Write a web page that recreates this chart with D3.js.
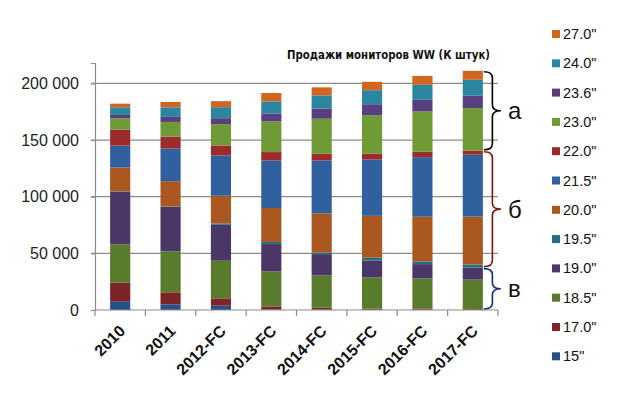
<!DOCTYPE html>
<html>
<head>
<meta charset="utf-8">
<script src="https://cdn.jsdelivr.net/npm/d3@7/dist/d3.min.js"></script>
<style>
  body { margin: 0; background: #fff; }
  text { font-family: "Liberation Sans", Arial, sans-serif; }
</style>
</head>
<body>
<div id="chart-area"></div>
<script>
// years / forecasts
var years = ["2010", "2011", "2012-FC", "2013-FC", "2014-FC", "2015-FC", "2016-FC", "2017-FC"];

// screen sizes, bottom of the stack first
var sizes = ["15\"", "17.0\"", "18.5\"", "19.0\"", "19.5\"", "20.0\"", "21.5\"", "22.0\"", "23.0\"", "23.6\"", "24.0\"", "27.0\""];

// K units
var s15   = [7300, 5000, 3800, 300, 200, 200, 200, 200];
var s17   = [16800, 10600, 6500, 2900, 1800, 900, 1200, 700];
var s18_5 = [33800, 36200, 33200, 30900, 28500, 27600, 26500, 25900];
var s19   = [46400, 39100, 31700, 24100, 18800, 15000, 12600, 10600];
var s19_5 = [500, 500, 1200, 1800, 1500, 2400, 2400, 2700];
var s20   = [20900, 22300, 24400, 30000, 34400, 37000, 39400, 42300];
var s21_5 = [19400, 28800, 35600, 42000, 46800, 49700, 52600, 54700];
var s22   = [14100, 10600, 8800, 7400, 5900, 5300, 4700, 3500];
var s23   = [10000, 12900, 18800, 27000, 30900, 33800, 35600, 37600];
var s23_6 = [2900, 4400, 5300, 7100, 9100, 9700, 10300, 10900];
var s24   = [6800, 8500, 9700, 10600, 11500, 12400, 13200, 14100];
var s27   = [3200, 4700, 5300, 7400, 7100, 7400, 7900, 7900];

var yTicks = [0, 50000, 100000, 150000, 200000];

// brace groups: label and the sizes they span (indexes into sizes)
var groupLabels = ["а", "б", "в"];
var groupFrom = [8, 4, 0];
var groupTo   = [11, 7, 3];

var series = [s15, s17, s18_5, s19, s19_5, s20, s21_5, s22, s23, s23_6, s24, s27];
var colors = ["#26508a", "#7d2427", "#587c2b", "#4a3667", "#246f80", "#aa581f",
              "#31609f", "#9d2b2b", "#6f9a35", "#5a3f80", "#2c86a1", "#d0661f"];
var braceColors = ["#000000", "#7a1010", "#14288a"];

var table = years.map(function(yr, i) {
  var row = { year: yr };
  sizes.forEach(function(s, k) { row[s] = series[k][i]; });
  return row;
});

var svg = d3.select("#chart-area").append("svg")
    .attr("width", 640)
    .attr("height", 395);

svg.append("rect").attr("width", 640).attr("height", 395).attr("fill", "#fff");

var x = d3.scaleBand()
    .domain(years)
    .range([95, 498])
    .paddingInner(0.6)
    .paddingOuter(0.3);

var y = d3.scaleLinear()
    .domain([0, 218000])
    .range([310, 63]);

var color = d3.scaleOrdinal().domain(sizes).range(colors);

// gridlines
svg.append("g").selectAll("line")
  .data(yTicks.slice(1))
  .enter().append("line")
    .attr("x1", 91).attr("x2", 498)
    .attr("y1", function(d) { return y(d); })
    .attr("y2", function(d) { return y(d); })
    .attr("stroke", "#8c8c8c")
    .attr("stroke-width", 1.2);

var stack = d3.stack().keys(sizes)(table);

svg.append("g").selectAll("g")
  .data(stack)
  .enter().append("g")
    .attr("fill", function(d) { return color(d.key); })
  .selectAll("rect")
  .data(function(d) { return d; })
  .enter().append("rect")
    .attr("x", function(d) { return x(d.data.year); })
    .attr("y", function(d) { return y(d[1]); })
    .attr("width", x.bandwidth())
    .attr("height", function(d) { return y(d[0]) - y(d[1]); });

// y axis
var yAxis = svg.append("g")
    .attr("transform", "translate(95,0)")
    .call(d3.axisLeft(y).tickValues(yTicks).tickSize(4)
      .tickFormat(function(d) { return d3.format(",")(d).replace(/,/g, " "); }));
yAxis.select(".domain").attr("stroke", "#8c8c8c").attr("stroke-width", 1.2);
yAxis.selectAll(".tick line").attr("stroke", "#8c8c8c").attr("stroke-width", 1.2);
yAxis.selectAll(".tick text")
    .attr("x", -16)
    .attr("fill", "#222")
    .style("font-size", "16px")
    .style("font-family", "Liberation Sans, Arial, sans-serif");

// x axis with ticks at band edges
var xAxis = svg.append("g").attr("transform", "translate(0,310)");
xAxis.append("line")
    .attr("x1", 95).attr("x2", 498)
    .attr("stroke", "#8c8c8c").attr("stroke-width", 1.2);
var step = x.step();
xAxis.selectAll("line.tk")
  .data(d3.range(years.length + 1))
  .enter().append("line")
    .attr("class", "tk")
    .attr("x1", function(i) { return 95 + i * step; })
    .attr("x2", function(i) { return 95 + i * step; })
    .attr("y1", 0).attr("y2", 6)
    .attr("stroke", "#8c8c8c").attr("stroke-width", 1.2);
xAxis.selectAll("text")
  .data(years)
  .enter().append("text")
    .attr("transform", function(d) {
      return "translate(" + (x(d) + x.bandwidth() / 2 + 6) + ",22) rotate(-45)";
    })
    .attr("text-anchor", "end")
    .attr("fill", "#111")
    .style("font-size", "16px")
    .style("font-weight", "bold")
    .text(function(d) { return d; });

// title
svg.append("text")
    .attr("x", 287)
    .attr("y", 59)
    .attr("textLength", 203)
    .attr("lengthAdjust", "spacingAndGlyphs")
    .style("font-family", "DejaVu Sans, Verdana, sans-serif")
    .style("font-size", "11.5px")
    .style("font-weight", "bold")
    .attr("fill", "#111")
    .text("Продажи мониторов WW (К штук)");

// legend, top entry is the last series
var legend = svg.append("g").selectAll("g")
  .data(sizes.slice().reverse())
  .enter().append("g")
    .attr("transform", function(d, i) { return "translate(552," + (34 + i * 29.3) + ")"; });
legend.append("rect")
    .attr("x", 0).attr("y", -4)
    .attr("width", 8).attr("height", 8)
    .attr("fill", function(d) { return color(d); });
legend.append("text")
    .attr("x", 11)
    .attr("y", 0)
    .attr("dy", "0.35em")
    .attr("fill", "#111")
    .style("font-size", "14.5px")
    .text(function(d) { return d; });

// braces next to the last bar
var last = stack.map(function(layer) { return layer[years.length - 1]; });
var bx = x(years[years.length - 1]) + x.bandwidth() + 1;
var bw = 17;

function bracePath(x0, y0, y1, w) {
  var xm = x0 + w / 2, ym = (y0 + y1) / 2;
  var r = Math.min(6, (y1 - y0) / 4);
  return "M" + x0 + "," + y0 +
    "Q" + xm + "," + y0 + " " + xm + "," + (y0 + r) +
    "L" + xm + "," + (ym - r) +
    "Q" + xm + "," + ym + " " + (x0 + w) + "," + ym +
    "Q" + xm + "," + ym + " " + xm + "," + (ym + r) +
    "L" + xm + "," + (y1 - r) +
    "Q" + xm + "," + y1 + " " + x0 + "," + y1;
}

groupLabels.forEach(function(lbl, g) {
  var top = y(last[groupTo[g]][1]);
  var bot = y(last[groupFrom[g]][0]);
  svg.append("path")
      .attr("d", bracePath(bx, top + 1, bot - 1, bw))
      .attr("fill", "none")
      .attr("stroke", braceColors[g])
      .attr("stroke-width", 1.6);
  svg.append("text")
      .attr("x", bx + bw + 7)
      .attr("y", (top + bot) / 2)
      .attr("dy", "0.35em")
      .attr("fill", "#111")
      .style("font-size", "24px")
      .text(lbl);
});
</script>
</body>
</html>
